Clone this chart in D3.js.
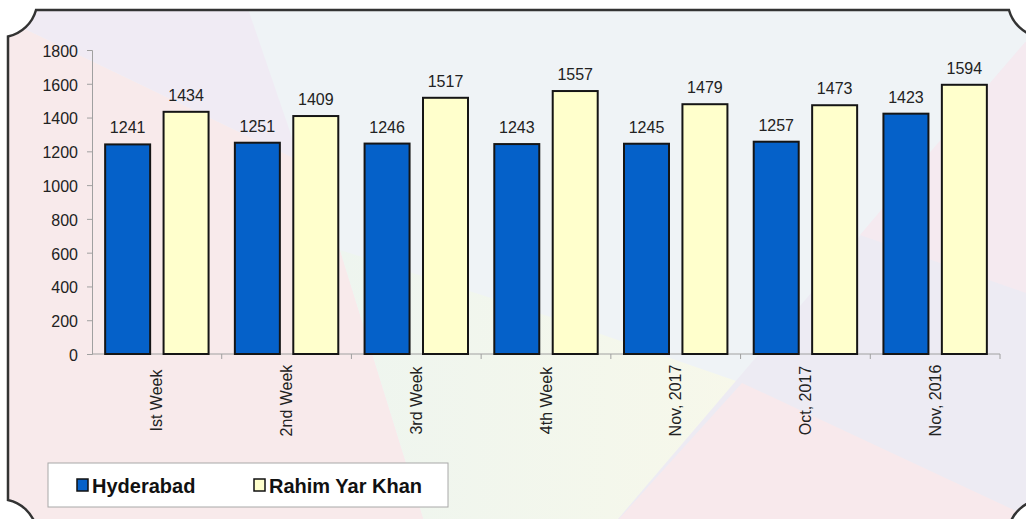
<!DOCTYPE html>
<html>
<head>
<meta charset="utf-8">
<script src="https://cdn.jsdelivr.net/npm/d3@7"></script>
<style>
  body { margin: 0; background: #fff; }
  svg { display: block; font-family: "Liberation Sans", Arial, sans-serif; }
</style>
</head>
<body>
<div id="chart"></div>
<script>
var categories = ["Ist Week", "2nd Week", "3rd Week", "4th Week", "Nov, 2017", "Oct, 2017", "Nov, 2016"];
var hyderabad = [1241, 1251, 1246, 1243, 1245, 1257, 1423];
var rahimYarKhan = [1434, 1409, 1517, 1557, 1479, 1473, 1594];
var seriesNames = ["Hyderabad", "Rahim Yar Khan"];
var yTicks = [0, 200, 400, 600, 800, 1000, 1200, 1400, 1600, 1800];

var width = 1026, height = 519;
var colors = d3.scaleOrdinal().domain(seriesNames).range(["#0561c9", "#ffffcc"]);

var svg = d3.select("#chart").append("svg")
    .attr("width", width)
    .attr("height", height);

// frame with concave corners
var r = 37.4;
var fx0 = 8, fy0 = 10, fx1 = 1037, fy1 = 526.5;
var a = Math.sqrt(r * r - 100), b = Math.sqrt(r * r - 64);
var framePath = "M" + (fx0 - 8 + a) + "," + fy0 +
    "H" + (fx1 + 8 - a) +
    "A" + r + "," + r + " 0 0 0 " + fx1 + "," + b +
    "V" + (fy1 + 10 - b) +
    "A" + r + "," + r + " 0 0 0 " + (fx1 + 8 - a) + "," + fy1 +
    "H" + (fx0 - 8 + a) +
    "A" + r + "," + r + " 0 0 0 " + fx0 + "," + (fy1 + 10 - b) +
    "V" + b +
    "A" + r + "," + r + " 0 0 0 " + (fx0 - 8 + a) + "," + fy0 + "Z";

var defs = svg.append("defs");
defs.append("clipPath").attr("id", "frame-clip").append("path").attr("d", framePath);
var grad = defs.append("linearGradient").attr("id", "gy").attr("x1", "0").attr("x2", "1").attr("y1", "0").attr("y2", "0");
grad.append("stop").attr("offset", "0").attr("stop-color", "#eef5ef");
grad.append("stop").attr("offset", "1").attr("stop-color", "#f7f8ea");

// pastel background shapes
var bgShapes = [
    {c: "#eff3f6", p: [[0, 0], [1046, 0], [1046, 540], [0, 540]]},
    {c: "#f8eaeb", p: [[0, 17], [300, 161], [340, 250], [430, 540], [0, 540]]},
    {c: "#f0ebf4", p: [[0, 0], [245, 0], [300, 161], [0, 17]]},
    {c: "url(#gy)", p: [[340, 250], [560, 320], [742, 383], [600, 540], [430, 540]]},
    {c: "#edebf3", p: [[1046, 18], [1046, 540], [600, 540]]},
    {c: "#f5eaf0", p: [[1046, 18], [1046, 300], [860, 235], [932, 150]]},
    {c: "#f8e9ec", p: [[742, 383], [1046, 525], [1046, 540], [600, 540]]}
];
var bg = svg.append("g").attr("clip-path", "url(#frame-clip)");
bg.selectAll("path").data(bgShapes).enter().append("path")
    .attr("d", function (d) { return "M" + d.p.join("L") + "Z"; })
    .attr("fill", function (d) { return d.c; });

svg.append("path")
    .attr("d", framePath)
    .attr("fill", "none")
    .attr("stroke", "#333")
    .attr("stroke-width", 2.5);

// scales
var x = d3.scaleBand().domain(categories).range([92, 1000]);
var xInner = d3.scaleBand().domain(seriesNames).range([0, x.bandwidth()])
    .paddingInner(0.23).paddingOuter(0.225);
var y = d3.scaleLinear().domain([0, 1800]).range([354, 50]);

// y axis
var yAxis = d3.axisLeft(y).tickValues(yTicks).tickSize(5).tickPadding(9).tickFormat(d3.format("d"));
var gy = svg.append("g").attr("transform", "translate(92,0)").call(yAxis);
gy.select(".domain").attr("stroke", "#a0a0a0");
gy.selectAll(".tick line").attr("stroke", "#a0a0a0");
gy.selectAll(".tick text").attr("fill", "#222").style("font-size", "16px").attr("dy", "0.4em");

// x axis
var gx = svg.append("g").attr("transform", "translate(0,354)");
gx.append("line").attr("x1", 92).attr("x2", 1000).attr("stroke", "#a0a0a0");
gx.selectAll("line.bt").data(categories.slice(1).concat([null])).enter().append("line")
    .attr("class", "bt")
    .attr("x1", function (d) { return d === null ? x.range()[1] : x(d); })
    .attr("x2", function (d) { return d === null ? x.range()[1] : x(d); })
    .attr("y1", 0).attr("y2", 5)
    .attr("stroke", "#a0a0a0");
gx.selectAll("text").data(categories).enter().append("text")
    .attr("transform", function (d) {
        return "translate(" + (x(d) + x.bandwidth() / 2) + ",0) rotate(-90)";
    })
    .attr("x", -46.5)
    .attr("dy", "0.35em")
    .attr("text-anchor", "middle")
    .attr("fill", "#222")
    .style("font-size", "16px")
    .text(function (d) { return d; });

// bars
var rows = categories.map(function (c, i) {
    return {cat: c, values: [
        {name: seriesNames[0], value: hyderabad[i]},
        {name: seriesNames[1], value: rahimYarKhan[i]}
    ]};
});

var groups = svg.selectAll("g.cat").data(rows).enter().append("g")
    .attr("class", "cat")
    .attr("transform", function (d) { return "translate(" + x(d.cat) + ",0)"; });

groups.selectAll("rect").data(function (d) { return d.values; }).enter().append("rect")
    .attr("x", function (d) { return xInner(d.name); })
    .attr("y", function (d) { return y(d.value); })
    .attr("width", xInner.bandwidth())
    .attr("height", function (d) { return y(0) - y(d.value); })
    .attr("fill", function (d) { return colors(d.name); })
    .attr("stroke", "#151515")
    .attr("stroke-width", 2);

groups.selectAll("text").data(function (d) { return d.values; }).enter().append("text")
    .attr("x", function (d) { return xInner(d.name) + xInner.bandwidth() / 2; })
    .attr("y", function (d) { return y(d.value) - 11; })
    .attr("text-anchor", "middle")
    .attr("fill", "#222")
    .style("font-size", "16px")
    .text(function (d) { return d.value; });

// legend
var legend = svg.append("g");
legend.append("rect")
    .attr("x", 48).attr("y", 463).attr("width", 400).attr("height", 44)
    .attr("fill", "#fff").attr("stroke", "#a8a8a8");
var legendX = [77, 254];
var item = legend.selectAll("g.item").data(seriesNames).enter().append("g")
    .attr("class", "item")
    .attr("transform", function (d, i) { return "translate(" + legendX[i] + ",479)"; });
item.append("rect")
    .attr("width", 11).attr("height", 12)
    .attr("fill", function (d) { return colors(d); })
    .attr("stroke", "#111").attr("stroke-width", 1.5);
item.append("text")
    .attr("x", 15).attr("y", 13.5)
    .attr("fill", "#111")
    .style("font-size", "20px").style("font-weight", "bold")
    .text(function (d) { return d; });
</script>
</body>
</html>
